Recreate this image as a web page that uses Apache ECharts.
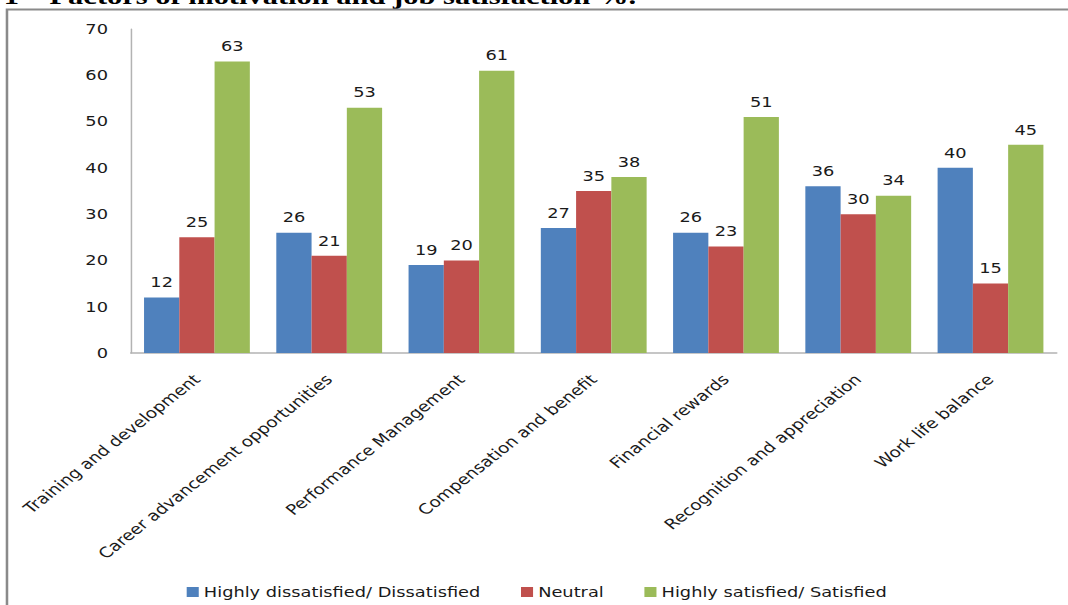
<!DOCTYPE html>
<html>
<head>
<meta charset="utf-8">
<script src="https://cdn.jsdelivr.net/npm/echarts@6/dist/echarts.min.js"></script>
<style>
html,body{margin:0;padding:0;background:#fff;overflow:hidden;width:1068px;height:605px;}
#chart{width:841px;height:605px;transform:scaleX(1.27);transform-origin:0 0;}
</style>
</head>
<body>
<div id="chart"></div>
<script>
const categories = ['Training and development','Career advancement opportunities','Performance Management','Compensation and benefit','Financial rewards','Recognition and appreciation','Work life balance'];
const seriesNames = ['Highly dissatisfied/ Dissatisfied','Neutral','Highly satisfied/ Satisfied'];
const dissatisfied = [12, 26, 19, 27, 26, 36, 40];
const neutral = [25, 21, 20, 35, 23, 30, 15];
const satisfied = [63, 53, 61, 38, 51, 34, 45];
const yTicks = [0, 10, 20, 30, 40, 50, 60, 70];
const titleText = '1 – Factors of motivation and job satisfaction %.';

const colors = ['#4F81BD', '#C0504D', '#9BBB59'];
const font = 'DejaVu Sans';
const chart = echarts.init(document.getElementById('chart'), null, {renderer: 'svg'});
const values = [dissatisfied, neutral, satisfied];

chart.setOption({
  animation: false,
  backgroundColor: '#fff',
  color: colors,
  graphic: [
    {type: 'text', left: 3, top: -16, style: {text: titleText, font: 'bold 24px "Liberation Serif"', fill: '#000'}, z: 1},
    {type: 'rect', shape: {x: 5.5, y: 9.5, width: 900, height: 700}, style: {fill: 'none', stroke: '#8a8a8a', lineWidth: 2}, z: 2}
  ],
  grid: {left: 103, right: 9, top: 29, bottom: 252, containLabel: false},
  legend: {
    data: seriesNames,
    left: 142, top: 580,
    itemWidth: 9.5, itemHeight: 10, itemGap: 32,
    icon: 'rect',
    textStyle: {fontFamily: font, fontSize: 14, color: '#1a1a1a', padding: [0,0,0,-1]}
  },
  xAxis: {
    type: 'category',
    data: categories,
    axisLine: {lineStyle: {color: '#b3b3b3', width: 1.5}},
    axisTick: {show: false},
    axisLabel: {rotate: 45, margin: 24, interval: 0, fontFamily: font, fontSize: 14.5, color: '#1a1a1a'}
  },
  yAxis: {
    type: 'value',
    min: yTicks[0], max: yTicks[yTicks.length - 1], interval: 10,
    splitLine: {show: false},
    axisLine: {show: true, lineStyle: {color: '#b3b3b3', width: 1.2}},
    axisTick: {show: false},
    axisLabel: {margin: 18, fontFamily: font, fontSize: 14, color: '#1a1a1a'}
  },
  series: seriesNames.map((name, i) => ({
    name: name,
    type: 'bar',
    data: values[i],
    barGap: '0%',
    barCategoryGap: '20%',
    itemStyle: {color: colors[i]},
    label: {show: true, position: 'top', distance: 8, fontFamily: font, fontSize: 14, color: '#1a1a1a'}
  }))
});
</script>
</body>
</html>
